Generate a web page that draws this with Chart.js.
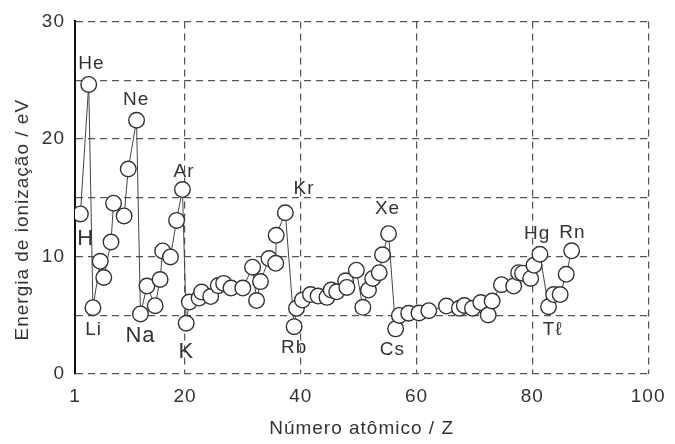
<!DOCTYPE html>
<html>
<head>
<meta charset="utf-8">
<script src="https://cdn.jsdelivr.net/npm/chart.js@4.4.0/dist/chart.umd.min.js"></script>
<style>
  html, body { margin: 0; padding: 0; background: #fff; }
  #wrap { width: 675px; height: 444px; }
</style>
</head>
<body>
<div id="wrap"><canvas id="ieChart" width="675" height="444"></canvas></div>
<script>
// posição no eixo x (número atômico, como aparece no gráfico)
const atomicPos = [1.93, 3.37, 4.10, 5.36, 5.97, 7.22, 7.66, 9.48, 10.20, 11.63,
  12.31, 13.43, 14.85, 15.70, 16.14, 17.49, 18.55, 19.56, 20.21, 20.75,
  22.44, 22.87, 24.44, 25.75, 26.68, 27.95, 29.99, 31.68, 32.36, 33.04,
  34.51, 35.67, 35.75, 37.33, 38.85, 39.26, 40.28, 41.68, 42.99, 44.52,
  45.25, 46.21, 47.74, 47.96, 49.60, 50.72, 51.69, 52.42, 53.55, 54.11,
  55.16, 56.38, 57.03, 58.64, 60.42, 62.11, 65.16, 67.40, 68.25, 69.66,
  71.10, 72.37, 73.05, 74.66, 76.78, 77.62, 78.30, 79.71, 80.28, 81.30,
  82.79, 83.68, 84.80, 85.85, 86.78];

// energia de ionização (eV)
const energies = [13.62, 24.64, 5.64, 9.59, 8.21, 11.23, 14.53, 13.45, 17.44, 21.59,
  5.11, 7.48, 5.81, 8.04, 10.47, 9.96, 13.07, 15.69, 4.32, 6.12,
  6.46, 6.97, 6.59, 7.52, 7.71, 7.31, 7.31, 9.09, 6.25, 7.86,
  9.82, 9.42, 11.80, 13.72, 4.03, 5.59, 6.29, 6.76, 6.63, 6.52,
  7.14, 6.99, 7.93, 7.37, 8.83, 5.67, 7.14, 8.13, 8.62, 10.14,
  11.94, 3.84, 4.98, 5.17, 5.19, 5.39, 5.78, 5.59, 5.83, 5.59,
  6.08, 5.02, 6.21, 7.60, 7.48, 8.62, 8.58, 8.13, 9.25, 10.19,
  5.72, 6.76, 6.76, 8.48, 10.48];

const xTicks = [1, 20, 40, 60, 80, 100];
const yTicks = [0, 10, 20, 30];

// rótulos dos elementos (posição em unidades dos eixos)
const elemNames = ['He', 'Ne', 'Ar', 'Kr', 'Xe', 'Hg', 'Rn', 'H', 'Li', 'Na', 'K', 'Rb', 'Cs', 'Tℓ'];
const elemX = [3.83, 11.56, 19.82, 40.55, 54.99, 80.84, 86.90, 2.86, 4.22, 12.31, 20.21, 38.85, 55.81, 83.51];
const elemY = [26.38, 23.29, 17.21, 15.75, 14.04, 11.94, 11.99, 11.52, 3.75, 3.24, 1.91, 2.25, 2.06, 3.75];
const elemSize = [19, 19, 19, 19, 19, 19, 19, 22, 19, 22, 22, 19, 19, 19];

const FONT = '"Liberation Sans", Arial, sans-serif';
const TEXT = '#333';
const GRID = '#555';
const DASH = [7, 5];

Chart.defaults.font.family = FONT;
Chart.defaults.color = TEXT;

const labelsPlugin = {
  id: 'elementLabels',
  beforeDraw(chart) {
    chart.ctx.letterSpacing = '1px';
  },
  afterDatasetsDraw(chart) {
    const { ctx, scales: { x, y } } = chart;
    ctx.save();
    ctx.fillStyle = TEXT;
    ctx.textAlign = 'center';
    ctx.textBaseline = 'middle';
    elemNames.forEach((name, i) => {
      ctx.font = elemSize[i] + 'px ' + FONT;
      ctx.fillText(name, x.getPixelForValue(elemX[i]), y.getPixelForValue(elemY[i]));
    });
    ctx.restore();

    // título do eixo y
    ctx.save();
    ctx.fillStyle = TEXT;
    ctx.font = '19px ' + FONT;
    ctx.textAlign = 'center';
    ctx.textBaseline = 'middle';
    ctx.translate(23, (y.top + y.bottom) / 2 + 22);
    ctx.rotate(-Math.PI / 2);
    ctx.fillText('Energia de ionização / eV', 0, 0);
    ctx.restore();
  }
};

const ctx = document.getElementById('ieChart');

new Chart(ctx.getContext('2d'), {
  type: 'scatter',
  data: {
    datasets: [{
      data: atomicPos.map((z, i) => ({ x: z, y: energies[i] })),
      showLine: true,
      borderColor: '#444',
      borderWidth: 1,
      pointRadius: 7.8,
      pointHoverRadius: 7.8,
      pointBackgroundColor: '#fff',
      pointBorderColor: '#333',
      pointBorderWidth: 1.4
    }]
  },
  options: {
    responsive: false,
    animation: false,
    devicePixelRatio: 1,
    layout: { padding: { top: 20, right: 16, bottom: 0, left: 0 } },
    plugins: {
      legend: { display: false },
      tooltip: { enabled: false }
    },
    scales: {
      x: {
        type: 'linear',
        min: 1,
        max: 100,
        afterBuildTicks: scale => { scale.ticks = xTicks.map(v => ({ value: v })); },
        afterFit: scale => { scale.height = 70; },
        ticks: {
          font: { size: 19 },
          color: TEXT,
          padding: 11,
          maxRotation: 0
        },
        grid: {
          color: c => (c.tick && c.tick.value === 1) ? 'rgba(0,0,0,0)' : GRID,
          lineWidth: 1.2,
          drawTicks: false
        },
        border: { display: false, dash: DASH },
        title: {
          display: true,
          text: 'Número atômico / Z',
          font: { size: 19 },
          color: TEXT,
          padding: { top: 0, bottom: 4 }
        }
      },
      y: {
        min: 0,
        max: 30,
        afterFit: scale => { scale.width = 75; },
        ticks: {
          stepSize: 5,
          font: { size: 19 },
          color: TEXT,
          padding: 10,
          callback: v => yTicks.includes(v) ? v : ''
        },
        grid: {
          color: GRID,
          lineWidth: 1.2,
          drawTicks: false
        },
        border: { display: true, color: '#111', width: 2, dash: DASH }
      }
    }
  },
  plugins: [labelsPlugin]
});
</script>
</body>
</html>
